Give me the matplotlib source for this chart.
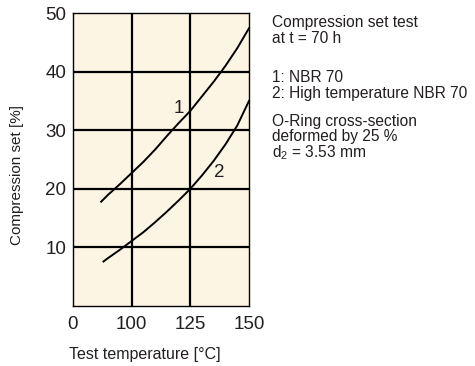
import matplotlib
matplotlib.use("Agg")
import matplotlib.pyplot as plt

plt.rcParams['font.family'] = ['Liberation Sans', 'DejaVu Sans']
plt.rcParams['mathtext.fontset'] = 'custom'
plt.rcParams['mathtext.rm'] = 'Liberation Sans'
plt.rcParams['mathtext.it'] = 'Liberation Sans'

INK = "#231f20"
PAPER = "#fdf5e3"

# compression set curves, temperature in degC
temp_1 = [87, 90, 95, 100, 105, 110, 115, 120, 125, 130, 135, 140, 145, 150]
set_1 = [17.8, 19.0, 20.8, 22.7, 24.6, 26.7, 29.0, 31.2, 33.3, 35.8, 38.3, 41.0, 44.0, 47.4]

temp_2 = [88, 90, 95, 100, 105, 110, 115, 120, 125, 130, 135, 140, 145, 150]
set_2 = [7.6, 8.2, 9.6, 11.1, 12.6, 14.3, 16.1, 18.0, 20.0, 22.3, 24.8, 27.6, 30.8, 35.0]

# x axis is broken below 100, first tick just reads "0"
xtick_pos = [75, 100, 125, 150]
xtick_labels = ["0", "100", "125", "150"]
yticks = [10, 20, 30, 40, 50]

# side notes: (lines, baseline of first line in px from top, line spacing)
notes = [
    (["Compression set test", "at t = 70 h"], 26.7, 1.03),
    (["1: NBR 70", "2: High temperature NBR 70"], 81.7, 1.03),
    (["O-Ring cross-section", "deformed by 25 %", r"d$_2$ = 3.53 mm"], 126, 0.96),
]

W, H = 475, 366
fig = plt.figure(figsize=(W / 100, H / 100), dpi=100)
ax = fig.add_axes([73 / W, 1 - 306 / H, 176 / W, 293 / H])
ax.set_facecolor(PAPER)

ax.set_xlim(75, 150)
ax.set_ylim(0, 50)
ax.set_xticks(xtick_pos)
ax.set_xticklabels(xtick_labels)
ax.set_yticks(yticks)
ax.tick_params(length=0, labelsize=13.5, colors=INK)
ax.tick_params(axis='x', pad=7)
ax.tick_params(axis='y', pad=5)

for x in xtick_pos[1:-1]:
    ax.axvline(x, color="black", lw=1.6, zorder=1)
for y in yticks[:-1]:
    ax.axhline(y, color="black", lw=1.6, zorder=1)
for s in ax.spines.values():
    s.set_linewidth(1.0)
    s.set_color("black")

ax.plot(temp_1, set_1, color="black", lw=1.4, zorder=3, clip_on=False)
ax.plot(temp_2, set_2, color="black", lw=1.4, zorder=3, clip_on=False)

ax.text(120.3, 33.7, "1", fontsize=13.5, color=INK, ha="center", va="center", zorder=2)
ax.text(137.3, 22.7, "2", fontsize=13.5, color=INK, ha="center", va="center", zorder=2)

fig.text(17 / W, 1 - 175 / H, "Compression set [%]", rotation=90,
         ha="center", va="center", fontsize=11, color=INK)
fig.text(145 / W, 1 - 355 / H, "Test temperature [°C]",
         ha="center", va="center", fontsize=11.5, color=INK)

for lines, yb, ls in notes:
    fig.text(272 / W, 1 - (yb - 11.5) / H, "\n".join(lines), ha="left", va="top",
             fontsize=11.2, color=INK, linespacing=ls)

fig.savefig("out.png", dpi=100)
